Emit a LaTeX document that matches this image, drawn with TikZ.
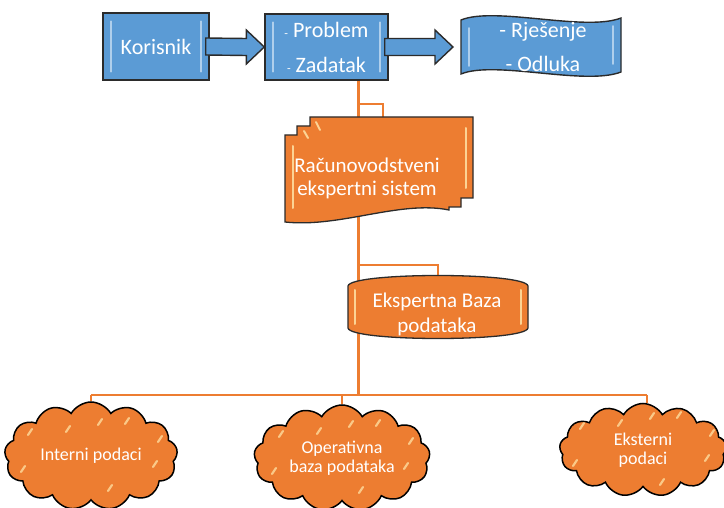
\documentclass[tikz,border=0pt]{standalone}
\usepackage{fontspec}
\setmainfont{Carlito}
\usetikzlibrary{shapes.symbols,calc,backgrounds}
\definecolor{bluefill}{HTML}{5B9BD5}
\definecolor{orfill}{HTML}{ED7D31}
\definecolor{edgec}{HTML}{2B2B2B}
\definecolor{bluehi}{HTML}{C5DDF2}
\definecolor{orhi}{HTML}{FFE3A6}
\tikzset{
 bluebox/.style={draw=edgec, line width=1.4pt, fill=bluefill, text=white, font=\fontsize{22}{35}\selectfont, align=center, inner sep=0pt},
 blockarrow/.style={draw=edgec, line width=1.4pt, fill=bluefill, line join=miter},
 orshape/.style={draw=edgec, line width=1.3pt, fill=orfill},
 wtext/.style={text=white, align=center, inner sep=0pt},
 mainline/.style={draw=orfill, line width=3pt},
 hline/.style={draw=orfill, line width=2.4pt},
 thinline/.style={draw=orfill, line width=1.3pt},
 cloudnode/.style={cloud, cloud puffs=13, cloud puff arc=120, cloud ignores aspect, draw=black, line width=1.5pt, fill=orfill, text=white, font=\fontsize{18}{19}\selectfont, align=center, inner sep=0pt},
 hiblue/.style={draw=bluehi, line width=1.8pt, line cap=round, opacity=0.8},
 hior/.style={draw=orhi, line width=2pt, line cap=round, opacity=0.85},
 glint/.style={draw=orhi, line width=2.2pt, line cap=round, opacity=0.75},
}
\newcommand\cglints[1]{%
 \foreach \dx/\dy in {-23/-27, 9/-34, 36/-35, 69/-17, -68/13, 64/8, 19/32, -61/-24}
  \draw[glint] ([shift={(\dx-2,\dy+3)}]#1.center) -- ([shift={(\dx+2,\dy-3)}]#1.center);}
\begin{document}
\begin{tikzpicture}[x=1pt,y=-1pt]
\useasboundingbox (0,0) rectangle (724,508);

% blue boxes
\node[bluebox, minimum width=106pt, minimum height=67pt] (kor) at (156,46.5) {Korisnik};
\node[bluebox, minimum width=123pt, minimum height=66pt] (prob) at (326.5,47) {{\fontsize{12}{12}\selectfont -} Problem\\{\fontsize{12}{12}\selectfont -} Zadatak};
\draw[hiblue] ([xshift=9pt,yshift=-9pt]kor.north west) -- ([xshift=9pt,yshift=9pt]kor.south west);
\draw[hiblue] ([xshift=-9pt,yshift=-9pt]kor.north east) -- ([xshift=-9pt,yshift=9pt]kor.south east);
\draw[hiblue] ([xshift=9pt,yshift=-9pt]prob.north west) -- ([xshift=9pt,yshift=9pt]prob.south west);
\draw[hiblue] ([xshift=-9pt,yshift=-9pt]prob.north east) -- ([xshift=-9pt,yshift=9pt]prob.south east);

% wave (result)
\draw[blockarrow] (461,20) .. controls (495,6) and (585,32) .. (621,18) -- (621,72) .. controls (585,86) and (495,60) .. (461,74) -- cycle;
\draw[hiblue] (469,28) -- (469,66);
\draw[hiblue] (613,26) -- (613,64);
\node[wtext, font=\fontsize{22}{34}\selectfont] (res) at (543,47) {- Rješenje\\- Odluka};
\coordinate (wtip) at (453,47);

% block arrows
\draw[blockarrow] ([xshift=-4pt,yshift=8.5pt]kor.east) -- ([xshift=-18pt,yshift=8.5pt]prob.west) -- ([xshift=-18pt,yshift=17pt]prob.west) -- (prob.west) -- ([xshift=-18pt,yshift=-17pt]prob.west) -- ([xshift=-18pt,yshift=-8.5pt]prob.west) -- ([xshift=-4pt,yshift=-8.5pt]kor.east) -- cycle;
\draw[blockarrow] ([xshift=-4pt,yshift=8.5pt]prob.east) -- ([xshift=-18pt,yshift=8.5pt]wtip) -- ([xshift=-18pt,yshift=17pt]wtip) -- (wtip) -- ([xshift=-18pt,yshift=-17pt]wtip) -- ([xshift=-18pt,yshift=-8.5pt]wtip) -- ([xshift=-4pt,yshift=-8.5pt]prob.east) -- cycle;

% Racunovodstveni ekspertni sistem (multidocument)
\draw[orshape] (285,135) -- (297,135) -- (297,126) -- (310,126) -- (310,117) -- (473,117) -- (473,198) -- (461,198) -- (461,207) -- (449,207) -- (449,210) .. controls (400,200) and (340,228) .. (285,222) -- cycle;
\draw[hior] (293,146) -- (293,208);
\draw[hior] (466,128) -- (466,188);
\draw[hior] (304,131) -- (308,138);
\draw[hior] (316,122) -- (320,130);
\node[wtext, font=\fontsize{21}{23}\selectfont] (rac) at (367,178) {Računovodstveni\\ekspertni sistem};
\coordinate (racTop) at (383,117);

% Ekspertna baza podataka
\draw[orshape] (348,286) .. controls (350,272) and (526,272) .. (528,286) -- (528,328) .. controls (526,342) and (350,342) .. (348,328) -- cycle;
\draw[hior] (355,290) -- (355,324);
\draw[hior] (521,290) -- (521,324);
\node[wtext, font=\fontsize{21}{25}\selectfont] (ekb) at (437,314) {Ekspertna Baza\\podataka};
\coordinate (ekTop) at (438,276);

% clouds
\node[cloudnode, minimum width=173pt, minimum height=108pt] (c1) at (91,456) {Interni podaci};
\node[cloudnode, minimum width=176pt, minimum height=106pt] (c2) at (342,458) {Operativna\\baza podataka};
\node[cloudnode, minimum width=167pt, minimum height=93pt] (c3) at (643,450) {Eksterni\\podaci};
\cglints{c1}
\cglints{c2}
\cglints{c3}

% connectors
\coordinate (m0) at (358,80);
\coordinate (m1) at (358,395);
\coordinate (rj) at (358,104);
\coordinate (ej) at (358,265);
\coordinate (hl) at (91,395);
\coordinate (hr) at (647,395);
\coordinate (hm) at (342,395);
\begin{pgfonlayer}{background}
\draw[mainline] (m0) -- (m1);
\draw[thinline] (rj) -| (racTop);
\draw[thinline] (ej) -| (ekTop);
\draw[hline] (hl) -- (hr);
\draw[thinline] (hl) -- (c1.north);
\draw[thinline] (hm) -- (c2.north);
\draw[thinline] (hr) -- (hr |- c3.north);
\end{pgfonlayer}
\end{tikzpicture}
\end{document}
